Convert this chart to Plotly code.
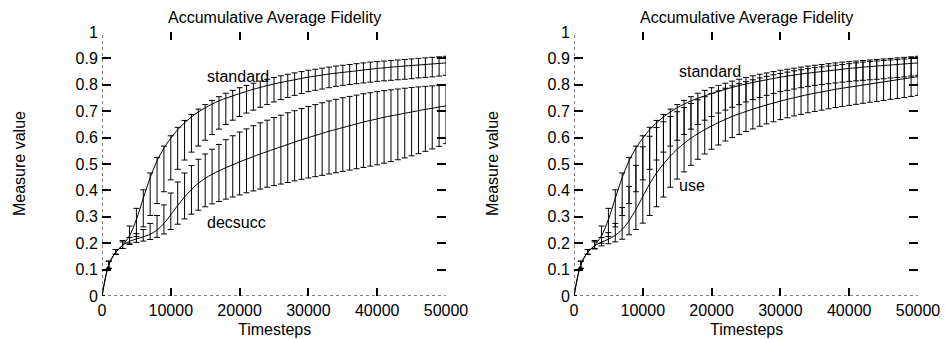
import plotly.graph_objects as go

timesteps = list(range(0, 50001, 1000))

std_mean = [0.000, 0.120, 0.166, 0.192, 0.228, 0.290, 0.370, 0.448, 0.512, 0.560,
            0.598, 0.630, 0.656, 0.678, 0.697, 0.713, 0.727, 0.739, 0.749, 0.758,
            0.767, 0.775, 0.783, 0.790, 0.797, 0.803, 0.809, 0.814, 0.819, 0.824,
            0.829, 0.833, 0.837, 0.841, 0.844, 0.847, 0.850, 0.853, 0.856, 0.859,
            0.862, 0.864, 0.867, 0.869, 0.871, 0.873, 0.875, 0.877, 0.879, 0.881, 0.883]
std_top = [0.000, 0.132, 0.176, 0.210, 0.265, 0.332, 0.402, 0.466, 0.525, 0.568,
           0.607, 0.639, 0.665, 0.688, 0.708, 0.725, 0.741, 0.755, 0.768, 0.779,
           0.789, 0.798, 0.806, 0.814, 0.821, 0.828, 0.834, 0.840, 0.845, 0.850,
           0.855, 0.859, 0.863, 0.867, 0.871, 0.874, 0.877, 0.880, 0.883, 0.886,
           0.888, 0.890, 0.892, 0.894, 0.896, 0.898, 0.900, 0.902, 0.904, 0.906, 0.908]
std_bottom = [0.000, 0.105, 0.158, 0.180, 0.200, 0.225, 0.262, 0.305, 0.350, 0.395,
              0.440, 0.480, 0.515, 0.545, 0.568, 0.590, 0.612, 0.632, 0.650, 0.666,
              0.680, 0.693, 0.704, 0.715, 0.725, 0.735, 0.744, 0.752, 0.760, 0.767,
              0.774, 0.779, 0.784, 0.789, 0.794, 0.798, 0.801, 0.804, 0.807, 0.810,
              0.813, 0.815, 0.817, 0.819, 0.821, 0.823, 0.826, 0.828, 0.830, 0.833, 0.836]

dec_mean = [0.000, 0.120, 0.166, 0.192, 0.207, 0.216, 0.224, 0.234, 0.250, 0.275,
            0.308, 0.343, 0.375, 0.403, 0.427, 0.446, 0.461, 0.474, 0.486, 0.497,
            0.508, 0.518, 0.528, 0.538, 0.547, 0.556, 0.565, 0.574, 0.583, 0.592,
            0.600, 0.608, 0.616, 0.624, 0.631, 0.638, 0.645, 0.652, 0.659, 0.665,
            0.671, 0.677, 0.682, 0.687, 0.692, 0.697, 0.702, 0.707, 0.711, 0.716, 0.720]
dec_top = [0.000, 0.132, 0.176, 0.205, 0.222, 0.236, 0.252, 0.275, 0.305, 0.345,
           0.390, 0.432, 0.466, 0.494, 0.518, 0.538, 0.556, 0.574, 0.592, 0.607,
           0.621, 0.633, 0.645, 0.656, 0.666, 0.676, 0.685, 0.694, 0.702, 0.710,
           0.718, 0.725, 0.732, 0.739, 0.745, 0.751, 0.756, 0.761, 0.766, 0.770,
           0.774, 0.778, 0.781, 0.784, 0.787, 0.790, 0.792, 0.794, 0.796, 0.798, 0.800]
dec_bottom = [0.000, 0.105, 0.158, 0.180, 0.195, 0.203, 0.208, 0.214, 0.222, 0.235,
              0.252, 0.272, 0.292, 0.310, 0.325, 0.338, 0.349, 0.358, 0.367, 0.375,
              0.383, 0.391, 0.398, 0.405, 0.412, 0.418, 0.424, 0.430, 0.436, 0.442,
              0.447, 0.452, 0.457, 0.462, 0.467, 0.472, 0.477, 0.482, 0.487, 0.492,
              0.497, 0.503, 0.509, 0.516, 0.523, 0.531, 0.539, 0.548, 0.557, 0.567, 0.577]

use_mean = [0.000, 0.120, 0.166, 0.190, 0.204, 0.215, 0.230, 0.252, 0.285, 0.328,
            0.377, 0.425, 0.466, 0.500, 0.530, 0.556, 0.578, 0.598, 0.615, 0.630,
            0.644, 0.657, 0.669, 0.680, 0.690, 0.699, 0.708, 0.716, 0.724, 0.731,
            0.738, 0.745, 0.751, 0.757, 0.763, 0.768, 0.773, 0.778, 0.783, 0.787,
            0.791, 0.795, 0.799, 0.803, 0.807, 0.811, 0.815, 0.819, 0.823, 0.827, 0.831]
use_top = [0.000, 0.132, 0.176, 0.205, 0.222, 0.240, 0.275, 0.335, 0.415, 0.495,
           0.565, 0.605, 0.638, 0.660, 0.680, 0.698, 0.714, 0.729, 0.743, 0.755,
           0.767, 0.777, 0.787, 0.796, 0.804, 0.812, 0.819, 0.826, 0.832, 0.838,
           0.843, 0.848, 0.853, 0.857, 0.861, 0.865, 0.868, 0.871, 0.874, 0.877,
           0.880, 0.883, 0.886, 0.888, 0.890, 0.892, 0.894, 0.896, 0.898, 0.900, 0.902]
use_bottom = [0.000, 0.105, 0.158, 0.178, 0.190, 0.198, 0.205, 0.215, 0.232, 0.252,
              0.276, 0.305, 0.338, 0.375, 0.412, 0.443, 0.470, 0.495, 0.518, 0.538,
              0.556, 0.572, 0.587, 0.600, 0.612, 0.623, 0.633, 0.643, 0.652, 0.660,
              0.668, 0.675, 0.682, 0.688, 0.694, 0.699, 0.704, 0.709, 0.714, 0.718,
              0.722, 0.726, 0.730, 0.734, 0.737, 0.741, 0.745, 0.748, 0.752, 0.756, 0.760]

x_ticks = [0, 10000, 20000, 30000, 40000, 50000]
y_ticks = [0, 0.1, 0.2, 0.3, 0.4, 0.5, 0.6, 0.7, 0.8, 0.9, 1]
y_tick_labels = ["0", "0.1", "0.2", "0.3", "0.4", "0.5", "0.6", "0.7", "0.8", "0.9", "1"]

panel_title = "Accumulative Average Fidelity"
x_title = "Timesteps"
y_title = "Measure value"

# (series name, label x, label y) per panel
left_labels = [("standard", 15000, 0.83), ("decsucc", 15000, 0.28)]
right_labels = [("standard", 15000, 0.85), ("use", 15000, 0.42)]

FONT = "Liberation Sans, Arial, Helvetica, sans-serif"
W, H = 945, 340


def series_trace(mean, top, bottom, xa, ya):
    return go.Scatter(
        x=timesteps, y=mean, xaxis=xa, yaxis=ya, mode="lines",
        line=dict(color="black", width=1, shape="spline", smoothing=0.8),
        error_y=dict(type="data", symmetric=False,
                     array=[t - m for t, m in zip(top, mean)],
                     arrayminus=[m - b for m, b in zip(mean, bottom)],
                     color="black", thickness=1, width=3),
        cliponaxis=False, showlegend=False, hoverinfo="skip",
    )


fig = go.Figure()
fig.add_trace(series_trace(std_mean, std_top, std_bottom, "x", "y"))
fig.add_trace(series_trace(dec_mean, dec_top, dec_bottom, "x", "y"))
fig.add_trace(series_trace(std_mean, std_top, std_bottom, "x2", "y2"))
fig.add_trace(series_trace(use_mean, use_top, use_bottom, "x2", "y2"))

ydom = [1 - 296 / H, 1 - 32 / H]
xdom1 = [102 / W, 446 / W]
xdom2 = [574 / W, 918 / W]

common_x = dict(range=[0, 50000], tickvals=x_ticks, ticktext=[str(v) for v in x_ticks],
                ticks="inside", ticklen=8, tickwidth=1.5, tickcolor="black",
                showline=True, linecolor="rgba(0,0,0,0)", mirror="ticks",
                showgrid=False, zeroline=False, fixedrange=True, automargin=False,
                ticklabelstandoff=0,
                tickfont=dict(family=FONT, size=16, color="black"))
common_y = dict(range=[0, 1], tickvals=y_ticks, ticktext=y_tick_labels,
                ticks="inside", ticklen=9, tickwidth=1.5, tickcolor="black",
                showline=True, linecolor="rgba(0,0,0,0)", mirror="ticks",
                showgrid=False, zeroline=False, fixedrange=True, automargin=False,
                tickfont=dict(family=FONT, size=16, color="black"))

fig.update_layout(
    template="none",
    width=W, height=H, margin=dict(l=0, r=0, t=0, b=0, pad=0, autoexpand=False),
    paper_bgcolor="white", plot_bgcolor="white",
    font=dict(family=FONT, size=16, color="black"),
    xaxis=dict(domain=xdom1, anchor="y", **common_x),
    yaxis=dict(domain=ydom, anchor="x", **common_y),
    xaxis2=dict(domain=xdom2, anchor="y2", **common_x),
    yaxis2=dict(domain=ydom, anchor="x2", **common_y),
)

shapes = []
annotations = []
for xa, ya, labels in (("x", "y", left_labels), ("x2", "y2", right_labels)):
    # dotted zero axes
    shapes.append(dict(type="line", xref=xa, yref=ya, x0=0, x1=0, y0=0, y1=1,
                       line=dict(color="black", width=1, dash="dot")))
    shapes.append(dict(type="line", xref=xa, yref=ya, x0=0, x1=50000, y0=0, y1=0,
                       line=dict(color="black", width=1, dash="dot")))
    annotations.append(dict(text=panel_title, xref=xa + " domain", yref="paper",
                            x=0.5, y=1 - 17 / H, showarrow=False,
                            xanchor="center", yanchor="middle",
                            font=dict(family=FONT, size=16)))
    annotations.append(dict(text=x_title, xref=xa + " domain", yref="paper",
                            x=0.5, y=1 - 329.5 / H, showarrow=False,
                            xanchor="center", yanchor="middle",
                            font=dict(family=FONT, size=16)))
    for name, lx, ly in labels:
        annotations.append(dict(text=name, xref=xa, yref=ya, x=lx, y=ly,
                                showarrow=False, xanchor="left", yanchor="middle",
                                font=dict(family=FONT, size=16)))

annotations.append(dict(text=y_title, xref="paper", yref="paper", x=19 / W, y=1 - 164 / H,
                        showarrow=False, textangle=-90, xanchor="center", yanchor="middle",
                        font=dict(family=FONT, size=16)))
annotations.append(dict(text=y_title, xref="paper", yref="paper", x=492 / W, y=1 - 164 / H,
                        showarrow=False, textangle=-90, xanchor="center", yanchor="middle",
                        font=dict(family=FONT, size=16)))

fig.update_layout(shapes=shapes, annotations=annotations)
fig.write_html("out.html")
